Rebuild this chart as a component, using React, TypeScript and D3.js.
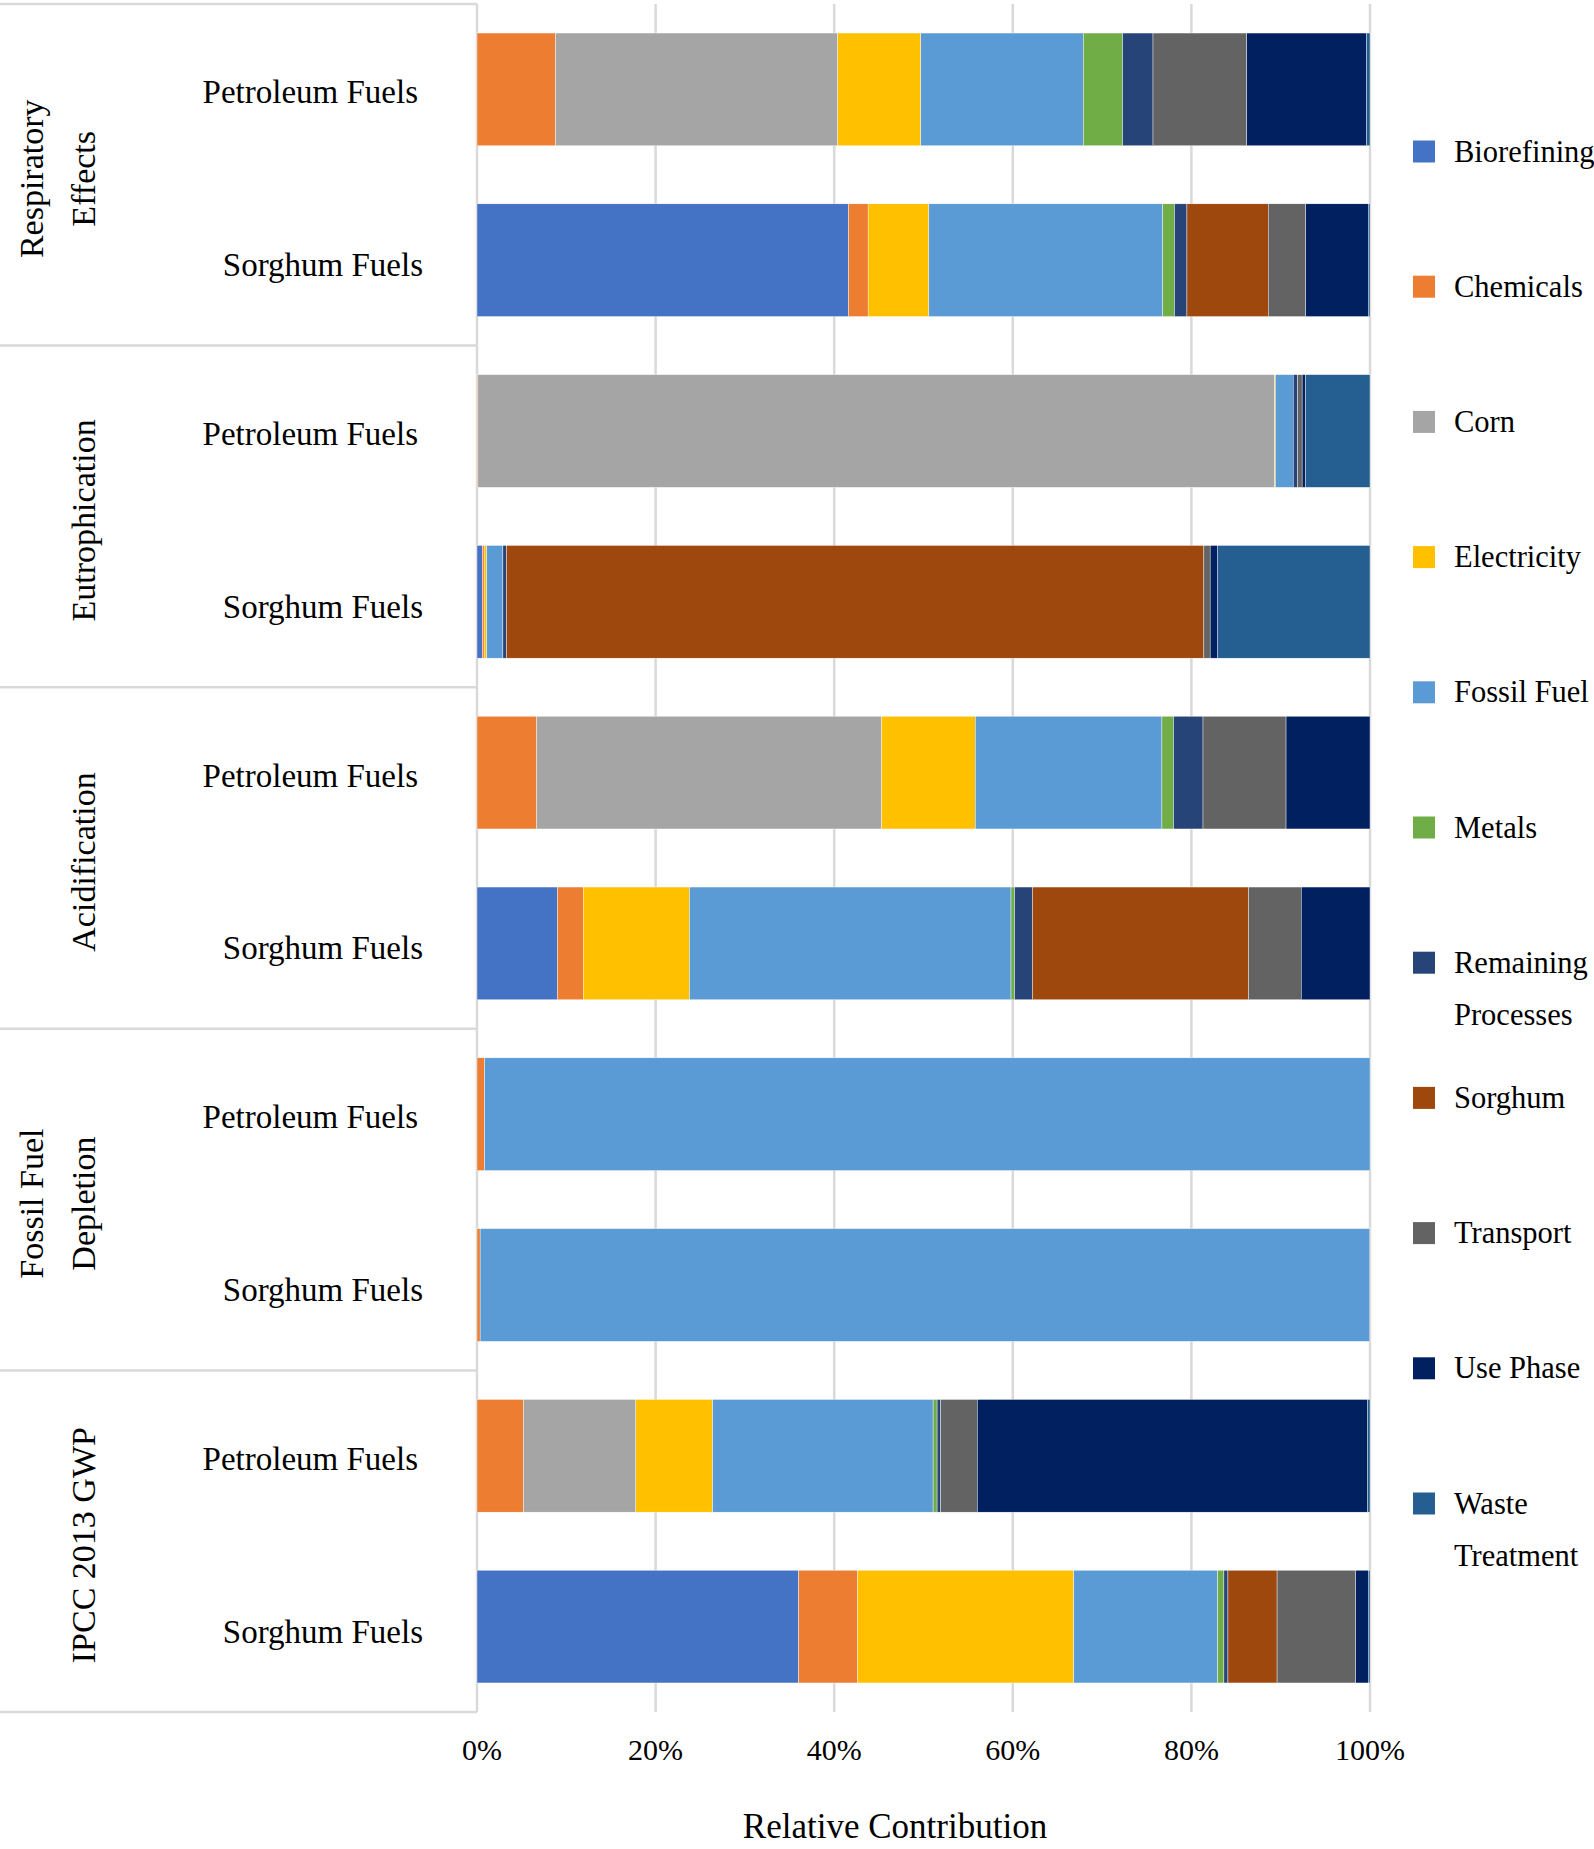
import React from "react";
import * as d3 from "d3";

const WIDTH = 1594;
const HEIGHT = 1849;
const PLOT = { left: 477, right: 1370, top: 4, bottom: 1712 };
const FONT = "'Liberation Serif', 'Times New Roman', serif";

// impact categories (top to bottom) and the two fuels inside each
const groups = [
  ["Respiratory", "Effects"],
  ["Eutrophication"],
  ["Acidification"],
  ["Fossil Fuel", "Depletion"],
  ["IPCC 2013 GWP"],
];
const fuels = ["Petroleum Fuels", "Sorghum Fuels"];

const seriesNames = [
  "Biorefining", "Chemicals", "Corn", "Electricity", "Fossil Fuel", "Metals",
  "Remaining Processes", "Sorghum", "Transport", "Use Phase", "Waste Treatment",
];
const seriesColors = [
  "#4472C4", "#ED7D31", "#A5A5A5", "#FFC000", "#5B9BD5", "#70AD47",
  "#264478", "#9E480E", "#636363", "#002060", "#255E91",
];

// % contribution per row: Resp-P, Resp-S, Eutro-P, Eutro-S, Acid-P, Acid-S, FF-P, FF-S, GWP-P, GWP-S
const biorefining = [0, 41.6, 0, 0.6, 0, 9.0, 0, 0, 0, 36.0];
const chemicals = [8.8, 2.2, 0.1, 0.2, 6.7, 2.9, 0.85, 0.35, 5.2, 6.6];
const corn = [31.6, 0, 89.2, 0, 38.6, 0, 0, 0, 12.6, 0];
const electricity = [9.3, 6.8, 0.1, 0.3, 10.5, 11.9, 0, 0, 8.6, 24.2];
const fossilFuel = [18.2, 26.2, 2.0, 1.8, 20.9, 36.0, 99.15, 99.6, 24.7, 16.1];
const metals = [4.4, 1.3, 0, 0, 1.3, 0.4, 0, 0, 0.45, 0.7];
const remaining = [3.4, 1.4, 0.5, 0.4, 3.3, 2.0, 0, 0, 0.4, 0.45];
const sorghum = [0, 9.1, 0, 78.1, 0, 24.2, 0, 0, 0, 5.5];
const transport = [10.5, 4.2, 0.5, 0.7, 9.3, 5.9, 0, 0, 4.1, 8.8];
const usePhase = [13.4, 7.0, 0.4, 0.8, 9.4, 7.7, 0, 0.05, 43.7, 1.4];
const wasteTreatment = [0.4, 0.2, 7.2, 17.1, 0, 0, 0, 0, 0.3, 0.2];

const tickLabels = ["0%", "20%", "40%", "60%", "80%", "100%"];

const seriesValues = [
  biorefining, chemicals, corn, electricity, fossilFuel, metals,
  remaining, sorghum, transport, usePhase, wasteTreatment,
];

export default function App() {
  const rowKeys = groups.flatMap((g, gi) => fuels.map((f) => `${gi}-${f}`));

  // one record per bar, keyed by series name
  const table = rowKeys.map((key, ri) => {
    const rec: any = { key };
    seriesNames.forEach((s, si) => (rec[s] = seriesValues[si][ri]));
    return rec;
  });

  const stacked = d3
    .stack()
    .keys(seriesNames)
    .offset(d3.stackOffsetExpand)(table);

  const xScale = d3.scaleLinear().domain([0, 1]).range([PLOT.left, PLOT.right]);
  const yScale = d3
    .scaleBand()
    .domain(rowKeys)
    .range([PLOT.top, PLOT.bottom])
    .paddingInner(0.34)
    .paddingOuter(0.17);
  const groupScale = d3
    .scaleBand()
    .domain(groups.map((_, i) => String(i)))
    .range([PLOT.top, PLOT.bottom]);

  const ticks = d3.range(0, 1.0001, 0.2);

  // legend layout
  const legendX = 1413;
  const legendY0 = 151.5;
  const legendStep = 135.2;

  return (
    <svg
      width={WIDTH}
      height={HEIGHT}
      style={{ position: "absolute", left: 0, top: 0, background: "#fff" }}
      fontFamily={FONT}
    >
      {/* grid */}
      {ticks.slice(1).map((t, i) => (
        <line
          key={i}
          x1={xScale(t)}
          x2={xScale(t)}
          y1={PLOT.top}
          y2={PLOT.bottom}
          stroke="#d9d9d9"
          strokeWidth={2.5}
        />
      ))}

      {/* left table lines */}
      <line x1={PLOT.left} x2={PLOT.left} y1={PLOT.top} y2={PLOT.bottom} stroke="#d9d9d9" strokeWidth={2.5} />
      {groups.map((_, gi) => (
        <line
          key={gi}
          x1={0}
          x2={PLOT.left}
          y1={groupScale(String(gi))!}
          y2={groupScale(String(gi))!}
          stroke="#d9d9d9"
          strokeWidth={2.5}
        />
      ))}
      <line x1={0} x2={PLOT.left} y1={PLOT.bottom} y2={PLOT.bottom} stroke="#d9d9d9" strokeWidth={2.5} />

      {/* bars */}
      {stacked.map((layer, si) => (
        <g key={layer.key} fill={seriesColors[si]}>
          {layer.map((d, ri) => {
            const w = xScale(d[1]) - xScale(d[0]);
            if (w <= 0) return null;
            return (
              <rect
                key={ri}
                x={xScale(d[0])}
                y={yScale(rowKeys[ri])}
                width={w}
                height={yScale.bandwidth()}
                stroke="#fff"
                strokeWidth={0.4}
              />
            );
          })}
        </g>
      ))}

      {/* fuel labels */}
      {rowKeys.map((key, ri) => (
        <text
          key={key}
          x={ri % 2 === 0 ? 418 : 423}
          y={yScale(key)! + yScale.bandwidth() / 2 + (ri % 2 === 0 ? 3 : 5)}
          textAnchor="end"
          dominantBaseline="central"
          fontSize={33}
        >
          {fuels[ri % 2]}
        </text>
      ))}

      {/* group labels */}
      {groups.map((lines, gi) => {
        const cy = groupScale(String(gi))! + groupScale.bandwidth() / 2;
        const xs = lines.length === 2 ? [31, 83] : [83];
        return lines.map((ln, li) => (
          <text
            key={`${gi}-${li}`}
            transform={`translate(${xs[li]},${cy + 4}) rotate(-90)`}
            textAnchor="middle"
            dominantBaseline="central"
            fontSize={34}
          >
            {ln}
          </text>
        ));
      })}

      {/* x axis tick labels */}
      {ticks.map((t, i) => (
        <text
          key={i}
          x={xScale(t) + (i === 0 ? 5 : 0)}
          y={1749}
          textAnchor="middle"
          dominantBaseline="central"
          fontSize={30}
        >
          {tickLabels[i]}
        </text>
      ))}
      <text x={895} y={1826} textAnchor="middle" dominantBaseline="central" fontSize={35}>
        Relative Contribution
      </text>

      {/* legend */}
      {seriesNames.map((name, i) => {
        const cy = legendY0 + i * legendStep;
        const words = name.split(" ");
        const lines =
          name === "Remaining Processes" || name === "Waste Treatment" ? words : [name];
        return (
          <g key={name}>
            <rect x={legendX} y={cy - 11} width={22} height={22} fill={seriesColors[i]} />
            {lines.map((ln, li) => (
              <text
                key={li}
                x={1454}
                y={cy + li * 52}
                dominantBaseline="central"
                fontSize={30.5}
              >
                {ln}
              </text>
            ))}
          </g>
        );
      })}
    </svg>
  );
}
